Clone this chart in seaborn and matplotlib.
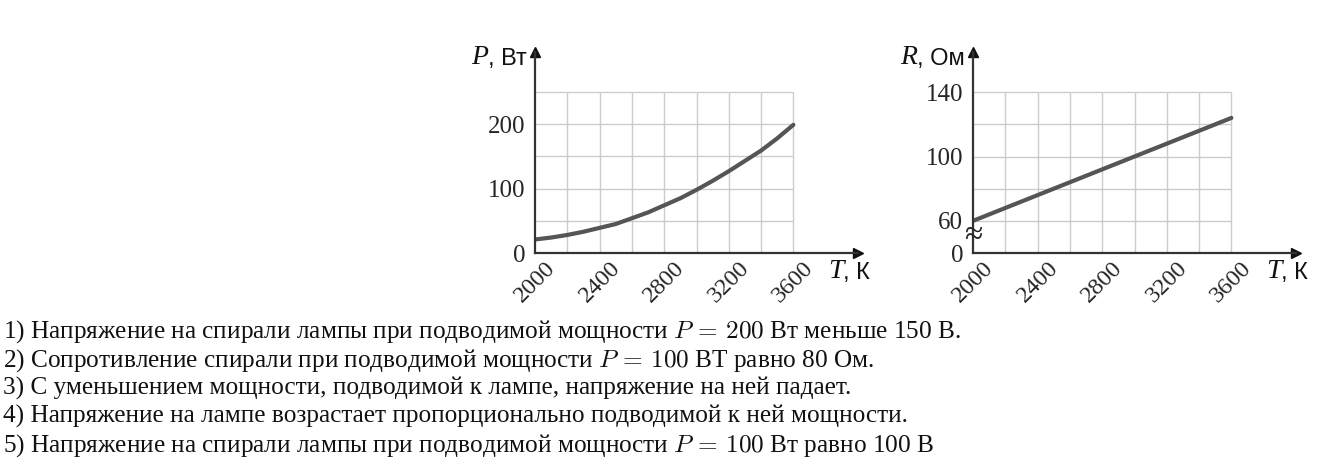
import numpy as np
import matplotlib
matplotlib.use("Agg")
import matplotlib.pyplot as plt
import seaborn as sns

# data
temps = [2000, 2100, 2200, 2300, 2400, 2500, 2600, 2700, 2800,
         2900, 3000, 3100, 3200, 3300, 3400, 3500, 3600]
power = [21, 24, 28, 33, 39, 45, 54, 63, 74, 85, 98, 112, 127, 143, 159, 178, 199]
r_temps = [2000, 2400, 2800, 3200, 3600]
resist = [60, 76, 92, 108, 124]

x_ticks = [2000, 2400, 2800, 3200, 3600]
x_grid = [2200, 2400, 2600, 2800, 3000, 3200, 3400, 3600]
p_ticks = [0, 100, 200]
p_grid = [50, 100, 150, 200, 250]
r_ticks = [40, 60, 100, 140]
r_tick_labels = ["0", "60", "100", "140"]
r_grid = [60, 80, 100, 120, 140]

statements = [
    "1) Напряжение на спирали лампы при подводимой мощности $P\\,=\\,200$ Вт меньше 150 В.",
    "2) Сопротивление спирали при подводимой мощности $P\\,=\\,100$ ВТ равно 80 Ом.",
    "3) С уменьшением мощности, подводимой к лампе, напряжение на ней падает.",
    "4) Напряжение на лампе возрастает пропорционально подводимой к ней мощности.",
    "5) Напряжение на спирали лампы при подводимой мощности $P\\,=\\,100$ Вт равно 100 В",
]

sns.set_style("white")
plt.rcParams["font.family"] = ["Liberation Serif", "DejaVu Serif"]

W, H = 1337, 474
fig = plt.figure(figsize=(W / 100, H / 100), dpi=100)

axis_col = "#333333"
grid_col = "#cccccc"
line_col = "#555555"


def px_axes(left, right, top, bottom):
    return fig.add_axes([left / W, 1 - bottom / H, (right - left) / W, (bottom - top) / H])


def axis_label(ax, x, y, sym, unit, ha):
    # italic serif symbol followed by a sans-serif unit
    if ha == "left":
        t = ax.text(x, y, sym, transform=ax.transAxes, ha="left", va="baseline",
                    fontsize=20, style="italic", color="#111111")
        ax.annotate(", " + unit, xy=(1, 0), xycoords=t, va="bottom", ha="left",
                    fontsize=17, family="Liberation Sans", color="#111111")
    else:
        u = ax.text(x, y, ", " + unit, transform=ax.transAxes, ha="right", va="baseline",
                    fontsize=17, family="Liberation Sans", color="#111111")
        ax.annotate(sym, xy=(0, 0), xycoords=u, va="bottom", ha="right",
                    fontsize=20, style="italic", color="#111111")


def style_axes(ax, ylab, yunit):
    for s in ["top", "right"]:
        ax.spines[s].set_visible(False)
    for s in ["left", "bottom"]:
        ax.spines[s].set_color(axis_col)
        ax.spines[s].set_linewidth(1.6)
    ax.plot(1, 0, ">", color="#111111", ms=7, transform=ax.transAxes, clip_on=False)
    ax.plot(0, 1, "^", color="#111111", ms=7, transform=ax.transAxes, clip_on=False)
    ax.set_xticks(x_ticks)
    ax.set_xticklabels([str(t) for t in x_ticks], rotation=45, fontsize=17.5)
    ax.tick_params(axis="x", direction="inout", length=6, width=1.4, color=axis_col, pad=0)
    ax.tick_params(axis="y", direction="out", length=4, width=1.4, color=axis_col,
                   labelsize=18, pad=3)
    ax.set_xlabel("")
    ax.set_ylabel("")
    axis_label(ax, -0.025, 0.935, ylab, yunit, "right")
    axis_label(ax, 0.907, -0.125, "T", "К", "left")


# left chart: P(T)
ax1 = px_axes(535, 858, 52, 253)
ax1.hlines(p_grid, 2000, 3600, color=grid_col, lw=1, zorder=0)
ax1.vlines(x_grid, 0, 250, color=grid_col, lw=1, zorder=0)
sns.lineplot(x=temps, y=power, ax=ax1, color=line_col, linewidth=3)
ax1.set_xlim(2000, 4000)
ax1.set_ylim(0, 312)
ax1.set_yticks(p_ticks)
style_axes(ax1, "P", "Вт")

# right chart: R(T), broken axis below 60
ax2 = px_axes(973, 1296, 52, 253)
ax2.hlines(r_grid, 2000, 3600, color=grid_col, lw=1, zorder=0)
ax2.vlines(x_grid, 40, 140, color=grid_col, lw=1, zorder=0)
sns.lineplot(x=r_temps, y=resist, ax=ax2, color=line_col, linewidth=3)
ax2.set_xlim(2000, 4000)
ax2.set_ylim(40, 165)
ax2.set_yticks(r_ticks)
ax2.set_yticklabels(r_tick_labels)
style_axes(ax2, "R", "Ом")
ax2.text(2000, 50.5, "≈", ha="center", va="center", fontsize=24, color="#222222")

for i, s in enumerate(statements):
    fig.text(3 / W, 1 - (332 + 28.3 * i) / H, s, ha="left", va="center",
             fontsize=18.2, color="#111111", math_fontfamily="cm")

fig.savefig("out.png", dpi=100)
